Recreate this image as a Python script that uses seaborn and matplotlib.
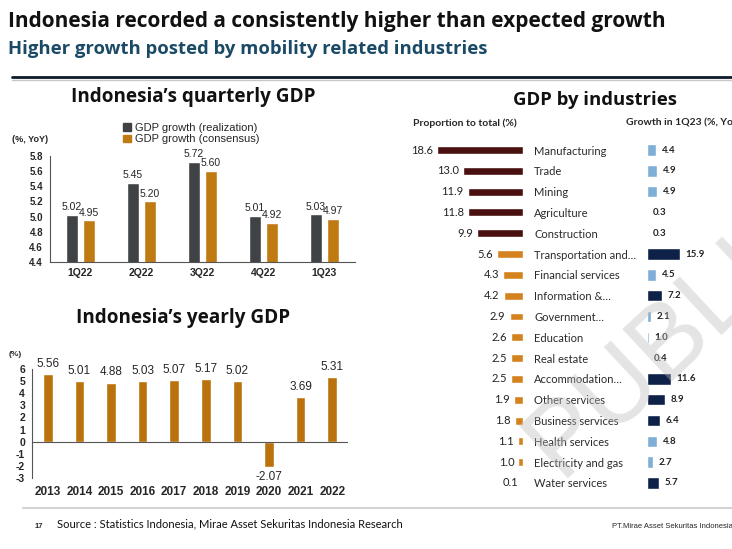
import pandas as pd
import seaborn as sns
import matplotlib.pyplot as plt
from matplotlib.lines import Line2D
from matplotlib.patches import Patch

# ---- data ----
quarters = ['1Q22', '2Q22', '3Q22', '4Q22', '1Q23']
gdp_realization = [5.02, 5.45, 5.72, 5.01, 5.03]
gdp_consensus = [4.95, 5.20, 5.60, 4.92, 4.97]

years = ['2013', '2014', '2015', '2016', '2017', '2018', '2019', '2020', '2021', '2022']
yearly_gdp = [5.56, 5.01, 4.88, 5.03, 5.07, 5.17, 5.02, -2.07, 3.69, 5.31]

industries = ['Manufacturing', 'Trade', 'Mining', 'Agriculture', 'Construction',
              'Transportation and…', 'Financial services', 'Information &…',
              'Government…', 'Education', 'Real estate', 'Accommodation…',
              'Other services', 'Business services', 'Health services',
              'Electricity and gas', 'Water services']
proportion = [18.6, 13.0, 11.9, 11.8, 9.9, 5.6, 4.3, 4.2, 2.9, 2.6, 2.5, 2.5,
              1.9, 1.8, 1.1, 1.0, 0.1]
growth_1q23 = [4.4, 4.9, 4.9, 0.3, 0.3, 15.9, 4.5, 7.2, 2.1, 1.0, 0.4, 11.6,
               8.9, 6.4, 4.8, 2.7, 5.7]

# ---- style ----
sns.set_style('white')
plt.rcParams['font.family'] = ['Liberation Sans', 'DejaVu Sans']
plt.rcParams['axes.unicode_minus'] = False

W, H = 732, 549
dark_grey = '#404345'
bronze = '#C07A12'
maroon = '#4A0F0F'
orange = '#D4821E'
light_blue = '#7FAFD6'
navy = '#0E2148'


def fx(x):
    return x / W


def fy(y):
    return 1 - y / H


def box(left, top, right, bottom):
    return [fx(left), fy(bottom), (right - left) / W, (bottom - top) / H]


fig = plt.figure(figsize=(W / 100, H / 100), dpi=100)

# ---- header ----
fig.text(fx(8), fy(22), 'Indonesia recorded a consistently higher than expected growth',
         family='Open Sans', weight='bold', fontsize=15, va='center', color='#111111')
fig.text(fx(8), fy(49), 'Higher growth posted by mobility related industries',
         family='Open Sans', weight='bold', fontsize=13.3, va='center', color='#1B4A66')
fig.add_artist(Line2D([fx(12), 1], [fy(77), fy(77)], transform=fig.transFigure,
                      color='#0D1B2A', lw=2))
fig.add_artist(Line2D([fx(12), 1], [fy(79.5), fy(79.5)], transform=fig.transFigure,
                      color='#C8C8C8', lw=1))

# ---- quarterly GDP ----
fig.text(fx(193), fy(97), 'Indonesia’s quarterly GDP', family='Open Sans',
         weight='bold', fontsize=13.6, ha='center', va='center', color='#111111')
q_df = pd.DataFrame({
    'quarter': quarters * 2,
    'value': gdp_realization + gdp_consensus,
    'series': ['GDP growth (realization)'] * 5 + ['GDP growth (consensus)'] * 5,
})
ax1 = fig.add_axes(box(50, 156, 355, 262))
sns.barplot(data=q_df, x='quarter', y='value', hue='series',
            palette=[dark_grey, bronze], width=0.55, gap=0.25, saturation=1,
            errorbar=None, legend=False, ax=ax1)
ax1.set_ylim(4.4, 5.8)
ax1.set_yticks([4.4, 4.6, 4.8, 5.0, 5.2, 5.4, 5.6, 5.8])
ax1.set_yticklabels([f'{t:.1f}' for t in ax1.get_yticks()])
ax1.set_xlabel('')
ax1.set_ylabel('')
for s in ['top', 'right']:
    ax1.spines[s].set_visible(False)
for s in ['left', 'bottom']:
    ax1.spines[s].set_color('#555555')
    ax1.spines[s].set_linewidth(0.8)
ax1.tick_params(axis='y', length=2, pad=3, labelsize=7)
ax1.tick_params(axis='x', length=0, pad=4, labelsize=7.5)
for lbl in ax1.get_xticklabels() + ax1.get_yticklabels():
    lbl.set_fontweight('bold')
for c in ax1.containers:
    ax1.bar_label(c, fmt='%.2f', padding=2, fontsize=7.5, clip_on=False)
handles = [Patch(color=dark_grey), Patch(color=bronze)]
fig.legend(handles, ['GDP growth (realization)', 'GDP growth (consensus)'],
           loc='upper left', bbox_to_anchor=(fx(123), fy(123)), frameon=False,
           fontsize=8, handlelength=0.7, handleheight=0.7, handletextpad=0.4,
           labelspacing=0.12, borderaxespad=0, borderpad=0)
fig.text(fx(12), fy(140), '(%, YoY)', fontsize=6.5, weight='bold', va='center')

# ---- yearly GDP ----
fig.text(fx(183), fy(318), 'Indonesia’s yearly GDP', family='Open Sans',
         weight='bold', fontsize=13.6, ha='center', va='center', color='#111111')
ax2 = fig.add_axes(box(32, 369, 348, 478))
sns.barplot(x=years, y=yearly_gdp, color='#BA730C', width=0.3, saturation=1,
            errorbar=None, ax=ax2)
ax2.set_ylim(-3, 6)
ax2.set_yticks(range(-3, 7))
ax2.axhline(0, color='#555555', lw=0.8)
for s in ['top', 'right', 'bottom']:
    ax2.spines[s].set_visible(False)
ax2.spines['left'].set_color('#555555')
ax2.spines['left'].set_linewidth(0.8)
ax2.tick_params(axis='y', length=2, pad=3, labelsize=7.5)
ax2.tick_params(axis='x', length=0, pad=6, labelsize=8.5)
for lbl in ax2.get_xticklabels() + ax2.get_yticklabels():
    lbl.set_fontweight('bold')
ax2.bar_label(ax2.containers[0], fmt='%.2f', padding=3, fontsize=8.5, clip_on=False)
fig.text(fx(9), fy(355), '(%)', fontsize=6, weight='bold', va='center')

# ---- GDP by industries ----
fig.text(fx(595), fy(100), 'GDP by industries', family='Open Sans',
         weight='bold', fontsize=13.3, ha='center', va='center', color='#111111')
fig.text(fx(413), fy(123), 'Proportion to total (%)', family='Lato',
         weight='bold', fontsize=7.5, va='center')
fig.text(fx(626), fy(123), 'Growth in 1Q23 (%, YoY)', family='Lato',
         weight='bold', fontsize=7.5, va='center')

share_colors = [maroon] * 5 + [orange] * 12
growth_colors = [light_blue if g < 5.03 else navy for g in growth_1q23]

ax3 = fig.add_axes(box(430.5, 139.6, 523, 493.4))
sns.barplot(x=proportion, y=industries, hue=industries, palette=share_colors,
            orient='h', width=0.38, saturation=1, errorbar=None, legend=False, ax=ax3)
ax3.set_xlim(20, 0)
ax3.yaxis.tick_right()
ax3.tick_params(axis='y', length=0, pad=8, labelsize=8, labelcolor='#2A2A2A')
for lbl in ax3.get_yticklabels():
    lbl.set_family('Lato')
ax3.set_xticks([])
ax3.set_xlabel('')
ax3.set_ylabel('')
sns.despine(ax=ax3, left=True, bottom=True)
for c, v in zip(ax3.containers, proportion):
    ax3.bar_label(c, labels=[f'{v:.1f}'], padding=3, fontsize=8,
                  family='Lato', color='#222222')

ax4 = fig.add_axes(box(647, 139.6, 688.5, 493.4))
sns.barplot(x=growth_1q23, y=industries, hue=industries, palette=growth_colors,
            orient='h', width=0.55, saturation=1, errorbar=None, legend=False, ax=ax4)
ax4.set_xlim(0, 20)
ax4.set_xticks([])
ax4.set_yticks([])
ax4.set_xlabel('')
ax4.set_ylabel('')
sns.despine(ax=ax4, left=True, bottom=True)
for c, v in zip(ax4.containers, growth_1q23):
    ax4.bar_label(c, labels=[f'{v:.1f}'], padding=4, fontsize=7,
                  family='Lato', weight='bold', color='#222222', clip_on=False)

# watermark
fig.text(fx(560), fy(478), 'PUBLIC', fontsize=74, color='#BDBDBD', alpha=0.4,
         rotation=43, rotation_mode='anchor', ha='left', va='baseline', zorder=10)

# ---- footer ----
fig.add_artist(Line2D([fx(23), 1], [fy(508), fy(508)], transform=fig.transFigure,
                      color='#D3D3D3', lw=1.5))
fig.text(fx(35), fy(527), '17', fontsize=5.5, weight='bold', va='center')
fig.text(fx(57), fy(524), 'Source : Statistics Indonesia, Mirae Asset Sekuritas Indonesia Research',
         family='Lato', fontsize=8, va='center', color='#111111')
fig.text(fx(612), fy(527), 'PT.Mirae Asset Sekuritas Indonesia',
         family=['Liberation Sans Narrow', 'Liberation Sans'], fontsize=5.5, va='center')

fig.savefig('out.png', dpi=100)
